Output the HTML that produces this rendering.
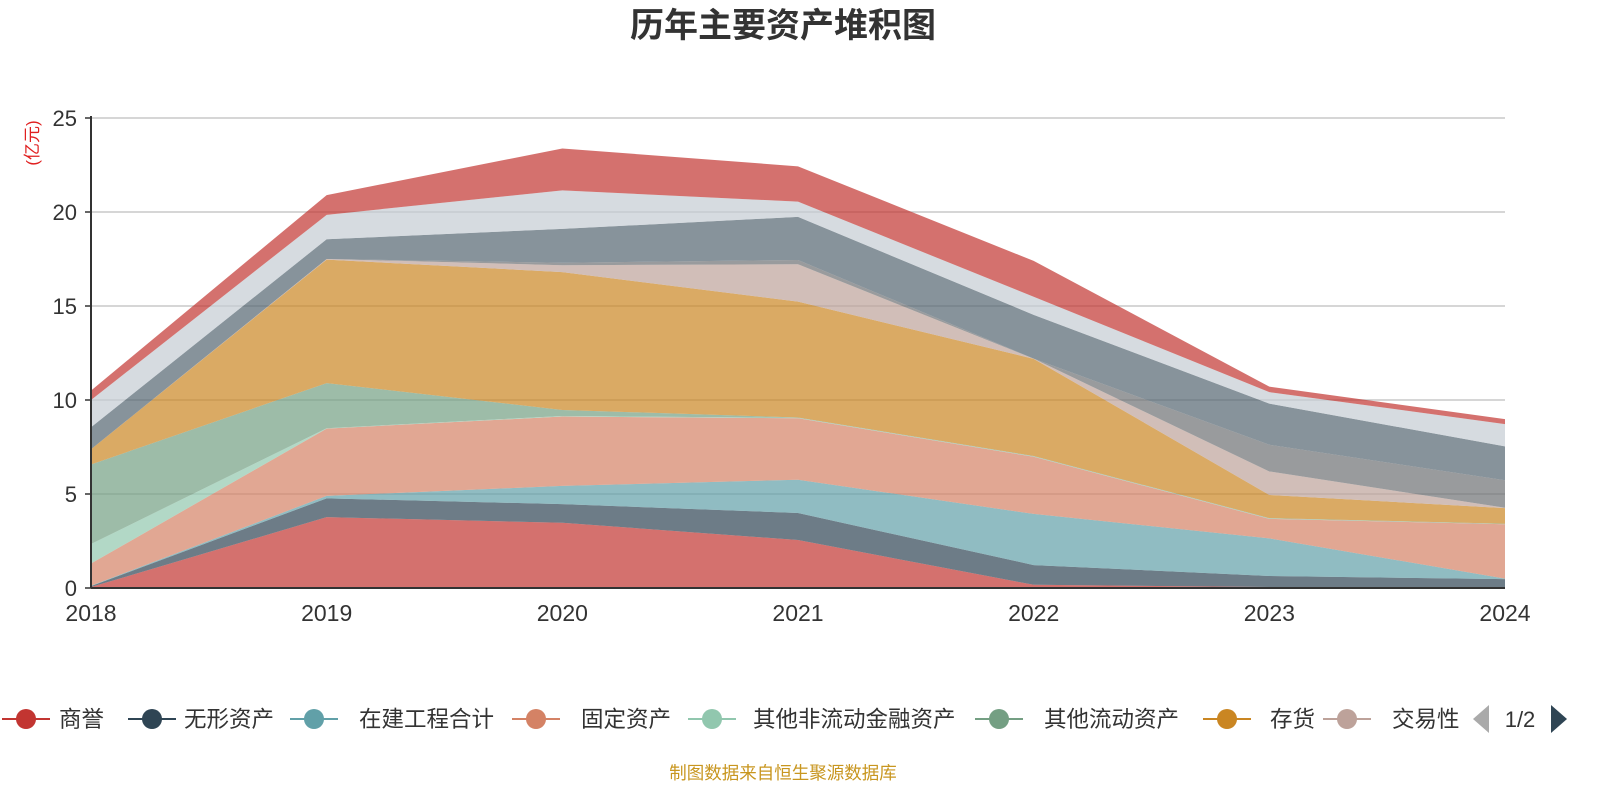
<!DOCTYPE html>
<html><head><meta charset="utf-8">
<style>
body{margin:0;background:#fff;width:1600px;height:800px;overflow:hidden;font-family:"Liberation Sans","Noto Sans CJK SC",sans-serif;}
svg text{font-family:"Liberation Sans","Noto Sans CJK SC",sans-serif;}
</style></head>
<body>
<svg id="chart" width="1600" height="800" viewBox="0 0 1600 800">
<text x="783" y="37" text-anchor="middle" font-size="34" font-weight="bold" fill="#333">历年主要资产堆积图</text>
<text transform="translate(38,143) rotate(-90)" text-anchor="middle" font-size="17" fill="#e02020">(亿元)</text>
<g id="grid"></g><g id="areas"></g><g id="axes"></g><g id="legend"></g>
<text x="783" y="779" text-anchor="middle" font-size="17.5" fill="#c8961f">制图数据来自恒生聚源数据库</text>
</svg>
<script>
const categories=['2018','2019','2020','2021','2022','2023','2024'];
const yTicks=[0,5,10,15,20,25];
const seriesNames=['商誉','无形资产','在建工程合计','固定资产','其他非流动金融资产','其他流动资产','存货','交易性金融资产','应收账款','货币资金','预付款项','其他应收款'];
const s1=[0.05,3.77,3.47,2.55,0.17,0.05,0.05];
const s2=[0.05,1.0,0.99,1.44,1.05,0.59,0.42];
const s3=[0.02,0.13,0.97,1.77,2.72,2.0,0.03];
const s4=[1.18,3.58,3.69,3.27,3.04,1.04,2.89];
const s5=[1.04,0.02,0.03,0.02,0.02,0.02,0.01];
const s6=[4.23,2.4,0.32,0.02,0.02,0.02,0.02];
const s7=[0.81,6.57,7.33,6.16,5.17,1.23,0.83];
const s8=[0,0.03,0.37,1.99,0.01,1.25,0.02];
const s9=[0,0,0.13,0.23,0,1.42,1.46];
const s10=[1.17,1.05,1.8,2.29,2.33,2.19,1.8];
const s11=[1.45,1.3,2.05,0.81,0.96,0.61,1.19];
const s12=[0.5,1.05,2.23,1.88,1.91,0.29,0.26];
const seriesValues=[s1,s2,s3,s4,s5,s6,s7,s8,s9,s10,s11,s12];
const colors=['#c23531','#2f4554','#61a0a8','#d48265','#91c7ae','#749f83','#ca8622','#bda29a','#6e7074','#546570','#c4ccd3','#c23531'];
const NS='http://www.w3.org/2000/svg';
const X0=91,X1=1505,Y0=588,Y1=118,YMAX=25;
const xs=i=>X0+(X1-X0)*i/(categories.length-1);
const ys=v=>Y0-(Y0-Y1)*v/YMAX;
function mk(tag,attrs,parent){const e=document.createElementNS(NS,tag);for(const k in attrs)e.setAttribute(k,attrs[k]);parent.appendChild(e);return e;}
const grid=document.getElementById('grid'),axes=document.getElementById('axes'),areas=document.getElementById('areas'),legend=document.getElementById('legend');
yTicks.forEach(t=>{
  if(t>0){const l=mk('line',{x1:X0,x2:X1,y1:ys(t),y2:ys(t),stroke:'#c8c8c8','stroke-width':1.5},grid);
  
  }
  const tk=mk('line',{x1:X0-6,x2:X0,y1:ys(t),y2:ys(t),stroke:'#333','stroke-width':1.5},axes);
  
  
  const tx=mk('text',{x:X0-14,y:ys(t)+8,'text-anchor':'end','font-size':22,fill:'#333'},axes);
  tx.textContent=t;
  
  
});
const cum=categories.map(()=>0);
seriesValues.forEach((vals,si)=>{
  const lower=cum.slice();
  vals.forEach((v,i)=>cum[i]+=v);
  let d='M'+categories.map((c,i)=>xs(i)+','+ys(cum[i])).join('L');
  for(let i=categories.length-1;i>=0;i--)d+='L'+xs(i)+','+ys(lower[i]);
  d+='Z';
  const p=mk('path',{d:d,fill:colors[si],'fill-opacity':0.7},areas);
  
  
});
const ax=mk('line',{x1:X0,x2:X0,y1:Y1-2,y2:Y0,stroke:'#333','stroke-width':2},axes);


const bx=mk('line',{x1:X0,x2:X1,y1:Y0,y2:Y0,stroke:'#333','stroke-width':2},axes);


categories.forEach((c,i)=>{
  const t=mk('text',{x:xs(i),y:621,'text-anchor':'middle','font-size':23,fill:'#333'},axes);
  t.textContent=c;
  
  
});
const legPos=[[26,59],[152,184],[314,359],[536,581],[712,753],[999,1044],[1227,1270],[1347,1392]];
const lc=['#c23531','#2f4554','#61a0a8','#d48265','#91c7ae','#749f83','#ca8622','#bda29a'];
legPos.forEach((p,i)=>{
  const g=mk('g',{},legend);
  
  
  mk('line',{x1:p[0]-24,x2:p[0]+24,y1:719,y2:719,stroke:lc[i],'stroke-width':2},g);
  mk('circle',{cx:p[0],cy:719,r:10,fill:lc[i]},g);
  const t=mk('text',{x:p[1],y:727,'font-size':22.5,fill:'#333'},g);
  t.textContent=i==7?'交易性':seriesNames[i];
});
const prev=mk('path',{d:'M1473,719L1489,705L1489,733Z',fill:'#aaa'},legend);


const pg=mk('text',{x:1520,y:727,'text-anchor':'middle','font-size':22,fill:'#333'},legend);
pg.textContent='1/2';


const next=mk('path',{d:'M1567,719L1551,705L1551,733Z',fill:'#2f4554'},legend);


</script>
</body></html>
